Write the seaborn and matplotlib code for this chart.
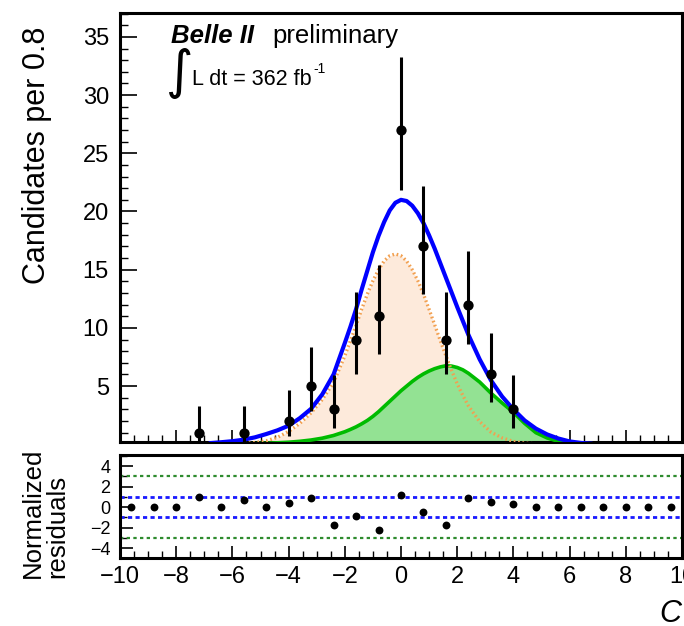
import matplotlib
matplotlib.use("Agg")
import numpy as np
import pandas as pd
import seaborn as sns
import matplotlib.pyplot as plt
from matplotlib.ticker import MultipleLocator

# ---------------- data ----------------
bin_centers = [-9.6, -8.8, -8.0, -7.2, -6.4, -5.6, -4.8, -4.0, -3.2, -2.4, -1.6, -0.8,
               0.0, 0.8, 1.6, 2.4, 3.2, 4.0, 4.8, 5.6, 6.4, 7.2, 8.0, 8.8, 9.6]
counts = [0, 0, 0, 1, 0, 1, 0, 2, 5, 3, 9, 11, 27, 17, 9, 12, 6, 3, 0, 0, 0, 0, 0, 0, 0]
err_low = [0, 0, 0, 0.83, 0, 0.83, 0, 1.29, 2.16, 1.63, 2.94, 3.26, 5.18, 4.08, 2.94, 3.41,
           2.38, 1.63, 0, 0, 0, 0, 0, 0, 0]
err_high = [1.84, 1.84, 1.84, 2.30, 1.84, 2.30, 1.84, 2.64, 3.38, 2.92, 4.11, 4.42, 6.26, 5.20,
            4.11, 4.57, 3.58, 2.92, 1.84, 1.84, 1.84, 1.84, 1.84, 1.84, 1.84]
residuals = [0, 0, 0, 1.0, 0, 0.7, 0, 0.4, 0.9, -1.7, -0.9, -2.2, 1.2, -0.5, -1.7, 0.9,
             0.5, 0.3, 0, 0, 0, 0, 0, 0, 0]

curve_x = [-6.8, -6.4, -6.0, -5.6, -5.2, -4.8, -4.4, -4.0, -3.6, -3.2, -2.8, -2.4, -2.0,
           -1.8, -1.6, -1.4, -1.2, -1.0, -0.8, -0.6, -0.4, -0.2, 0.0, 0.2, 0.4, 0.6, 0.8,
           1.0, 1.2, 1.4, 1.6, 1.8, 2.0, 2.2, 2.4, 2.8, 3.2, 3.6, 4.0,
           4.4, 4.8, 5.2, 5.6, 6.0, 6.4, 6.8]
total_fit = [0.1, 0.18, 0.27, 0.4, 0.6, 0.88, 1.2, 1.6, 2.25, 3.05, 4.3, 6.0, 8.7,
             10.1, 11.6, 13.3, 14.9, 16.5, 17.9, 19.1, 20.1, 20.75, 21.0, 20.9, 20.5,
             19.85, 19.0, 17.95, 16.8, 15.55, 14.3, 13.05, 11.8, 10.6, 9.4, 7.3, 5.5,
             4.1, 3.0, 2.05, 1.35, 0.85, 0.5, 0.25, 0.12, 0.05]
comp_orange = [0.0, 0.02, 0.04, 0.08, 0.15, 0.3, 0.6, 1.1, 1.8, 2.7, 3.85, 5.3, 7.6,
               8.9, 10.2, 11.6, 12.9, 14.05, 15.0, 15.75, 16.2, 16.35, 16.2, 15.75, 15.0,
               14.05, 12.9, 11.6, 10.25, 8.9, 7.6, 6.35, 5.2, 4.2, 3.3, 1.95, 1.05, 0.55,
               0.25, 0.1, 0.04, 0.01, 0.0, 0.0, 0.0, 0.0]
comp_green = [0.0, 0.01, 0.02, 0.04, 0.06, 0.09, 0.13, 0.18, 0.26, 0.37, 0.53, 0.76, 1.08,
              1.28, 1.5, 1.76, 2.05, 2.4, 2.8, 3.25, 3.7, 4.15, 4.6, 5.0, 5.4, 5.75, 6.05,
              6.3, 6.5, 6.65, 6.75, 6.72, 6.6, 6.4, 6.1, 5.35, 4.4, 3.55, 2.75, 1.8, 1.0,
              0.55, 0.25, 0.1, 0.03, 0.0]

x_ticks = [-10, -8, -6, -4, -2, 0, 2, 4, 6, 8, 10]
y_ticks = [5, 10, 15, 20, 25, 30, 35]
res_ticks = [-4, -2, 0, 2, 4]

# ---------------- style ----------------
sns.set_theme(style="ticks")
plt.rcParams["font.family"] = ["Liberation Sans", "DejaVu Sans"]
plt.rcParams["axes.unicode_minus"] = True
for k in ("text.color", "xtick.color", "ytick.color", "xtick.labelcolor",
          "ytick.labelcolor", "axes.labelcolor", "axes.edgecolor"):
    plt.rcParams[k] = "black"

W, H = 684, 626
fig = plt.figure(figsize=(W / 100, H / 100), dpi=100)


def fx(px):
    return px / W


def fy(py):
    return 1 - py / H


ax = fig.add_axes([fx(120), fy(442), fx(682) - fx(120), fy(13) - fy(442)])
axr = fig.add_axes([fx(120), fy(558), fx(682) - fx(120), fy(455) - fy(558)])

df_curve = pd.DataFrame({"x": curve_x, "total": total_fit,
                         "orange": comp_orange, "green": comp_green})

# fills
ax.fill_between(df_curve["x"], 0, df_curve["orange"], color="#fdeadb", lw=0, zorder=1)
ax.fill_between(df_curve["x"], 0, df_curve["green"], color="#93e293", lw=0, zorder=2)
sns.lineplot(data=df_curve, x="x", y="green", ax=ax, color="#00bb00", lw=2.6,
             sort=False, zorder=3)
sns.lineplot(data=df_curve, x="x", y="orange", ax=ax, color="#f2a050", lw=2.4,
             ls=(0, (0.5, 0.8)), sort=False, zorder=4)
sns.lineplot(data=df_curve, x="x", y="total", ax=ax, color="#0000ff", lw=3.0,
             sort=False, zorder=5)

# data points
df = pd.DataFrame({"x": bin_centers, "n": counts, "lo": err_low, "hi": err_high,
                   "res": residuals})
dfp = df[df["n"] > 0]
ax.errorbar(dfp["x"], dfp["n"], yerr=[dfp["lo"], dfp["hi"]], fmt="none",
            ecolor="black", elinewidth=2.2, capsize=0, zorder=6)
sns.scatterplot(data=dfp, x="x", y="n", ax=ax, color="black", s=55, edgecolor="black",
                linewidth=0, zorder=7)

ax.set_xlim(-10, 10)
ax.set_ylim(0.2, 37.05)
ax.set_xlabel("")
ax.set_ylabel("")
ax.set_yticks(y_ticks)
ax.yaxis.set_minor_locator(MultipleLocator(1))
ax.set_xticks(x_ticks)
ax.xaxis.set_minor_locator(MultipleLocator(0.5))
ax.tick_params(axis="x", which="both", direction="in", labelbottom=False)
ax.tick_params(axis="x", which="major", length=9, width=1.2)
ax.tick_params(axis="x", which="minor", length=5, width=1.0)
ax.tick_params(axis="y", which="both", direction="in", labelsize=17, pad=8)
ax.tick_params(axis="y", which="major", length=12, width=1.2)
ax.tick_params(axis="y", which="minor", length=6, width=1.0)

# residuals
axr.axhline(3, color="#2e8b2e", lw=1.6, ls=(0, (1.5, 1.5)), zorder=1)
axr.axhline(-3, color="#2e8b2e", lw=1.6, ls=(0, (1.5, 1.5)), zorder=1)
axr.axhline(1, color="#1a1aff", lw=2.0, ls=(0, (1.5, 1.2)), zorder=1)
axr.axhline(-1, color="#1a1aff", lw=2.0, ls=(0, (1.5, 1.2)), zorder=1)
sns.scatterplot(data=df, x="x", y="res", ax=axr, color="black", s=32, linewidth=0, zorder=3)
axr.set_xlim(-10, 10)
axr.set_ylim(-4.95, 5.08)
axr.set_xlabel("")
axr.set_ylabel("")
axr.set_xticks(x_ticks)
axr.xaxis.set_minor_locator(MultipleLocator(0.5))
axr.set_yticks(res_ticks)
axr.yaxis.set_minor_locator(MultipleLocator(1))
axr.tick_params(axis="x", which="both", direction="in", labelsize=17, pad=6)
axr.tick_params(axis="x", which="major", length=9, width=1.2)
axr.tick_params(axis="x", which="minor", length=5, width=1.0)
axr.tick_params(axis="y", which="both", direction="in", labelsize=13, pad=7)
axr.tick_params(axis="y", which="major", length=9, width=1.2)
axr.tick_params(axis="y", which="minor", length=5, width=1.0)

for a in (ax, axr):
    for s in a.spines.values():
        s.set_visible(True)
        s.set_linewidth(2.2)
        s.set_color("black")

# texts
fig.text(fx(37), fy(155), "Candidates per 0.8", rotation=90, ha="center", va="center",
         fontsize=22)
fig.text(fx(45), fy(578), "Normalized\nresiduals", rotation=90, ha="center", va="bottom",
         multialignment="left", fontsize=18.5, linespacing=1.05)
fig.text(fx(171), fy(43), "Belle II", fontsize=18.5, fontweight="bold", fontstyle="italic",
         ha="left", va="baseline")
fig.text(fx(272), fy(43), "preliminary", fontsize=18.5, ha="left", va="baseline")
fig.text(fx(180), fy(73), "\u222b", fontsize=38, ha="center", va="center",
         family=["DejaVu Sans"])
fig.text(fx(192), fy(85), "L dt = 362 fb", fontsize=15.5, ha="left", va="baseline")
fig.text(fx(313), fy(73), "-1", fontsize=10, ha="left", va="baseline")
fig.text(fx(659), fy(622), "C", fontsize=22, fontstyle="italic", ha="left", va="baseline")

fig.savefig("out.png", dpi=100)
